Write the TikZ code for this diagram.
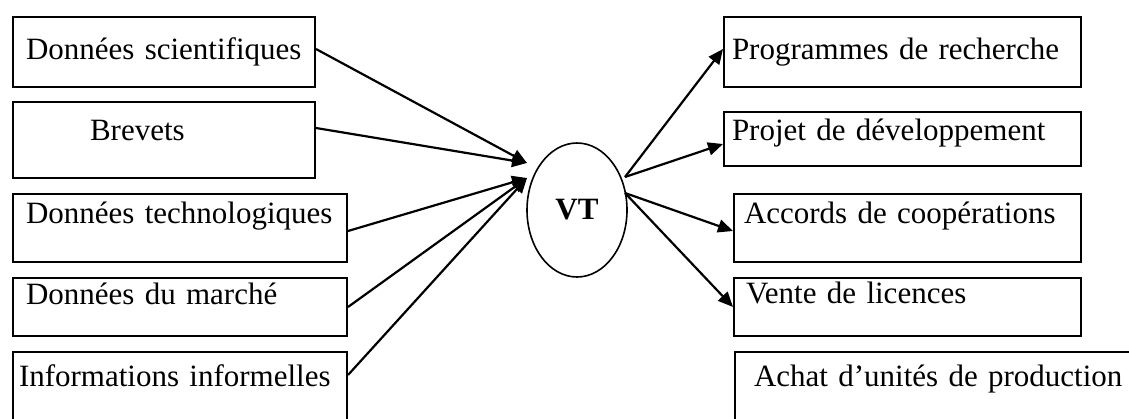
\documentclass[tikz,border=0pt]{standalone}
\usepackage{fontspec}
\setmainfont[Ligatures=NoCommon]{Liberation Serif}
\usepackage{tikz}
\usetikzlibrary{calc, shapes.geometric, arrows.meta}
\newcommand\boxfont{\fontsize{31}{37}\selectfont}
\tikzstyle{arrow}    = [line width=2.2pt,-{Triangle[length=15pt,width=13pt]}]

\begin{document}
\begin{tikzpicture}[
    x=1pt, y=-1pt,
    box/.style={draw, line width=2pt, anchor=north west, inner sep=0pt,
      align=left, font=\boxfont},
    lpad/.style={execute at begin node={\hspace*{#1}}},
    bsize/.style n args={3}{text width=#1, text height=#2, text depth=#3},
  ]
  \useasboundingbox (0,0) rectangle (1129,418);
  \clip (0,0) rectangle (1129,418);

  % sources
  \node[box, bsize={302pt}{42pt}{28pt}, lpad=13pt] (ds) at (12,16) {Données scientifiques};
  \node[box, bsize={302pt}{38pt}{38pt}, lpad=77pt] (brevets) at (12,101) {Brevets};
  \node[box, bsize={334pt}{29pt}{39pt}, lpad=13pt] (dt) at (12,193) {Données technologiques};
  \node[box, bsize={334pt}{26pt}{32pt}, lpad=13pt] (dm) at (12,277) {Données du marché};
  \node[box, bsize={334pt}{34pt}{86pt}, lpad=6pt] (ii) at (12,351) {Informations informelles};

  % veille
  \node[ellipse, draw, line width=1.6pt, minimum width=100pt, minimum height=134pt,
    inner sep=0pt, font=\boxfont\bfseries] (vt) at (577,210) {VT};

  % usages
  \node[box, bsize={357pt}{42pt}{28pt}, lpad=8pt] (pr) at (723,16) {Programmes de recherche};
  \node[box, bsize={357pt}{28pt}{26pt}, lpad=8pt] (pd) at (723,111) {Projet de développement};
  \node[box, bsize={347pt}{29pt}{39pt}, lpad=10pt] (ac) at (733,193) {Accords de coopérations};
  \node[box, bsize={347pt}{25pt}{33pt}, lpad=12pt] (vl) at (733,277) {Vente de licences};
  \node[box, bsize={450pt}{34pt}{86pt}, lpad=19pt] (au) at (734,351) {Achat d’unités de production};

  \coordinate (inA) at ($(vt)+(-50,-47)$);
  \coordinate (inB) at ($(vt)+(-50,-32)$);
  \coordinate (outA) at ($(vt)+(48,-33)$);
  \coordinate (outB) at ($(vt)+(48,-17)$);

  \draw[arrow] ([yshift=3pt]ds.east) -- (inA);
  \draw[arrow] ([yshift=12pt]brevets.east) -- (inA);
  \draw[arrow] ([yshift=-3pt]dt.east) -- (inB);
  \draw[arrow] (dm.east) -- (inB);
  \draw[arrow] ([yshift=-24pt]ii.north east) -- (inB);

  \draw[arrow] (outA) -- ([yshift=3pt]pr.west);
  \draw[arrow] (outA) -- ([yshift=-5pt]pd.west);
  \draw[arrow] (outB) -- ([yshift=-3pt]ac.west);
  \draw[arrow] (outB) -- (vl.west);
\end{tikzpicture}
\end{document}
